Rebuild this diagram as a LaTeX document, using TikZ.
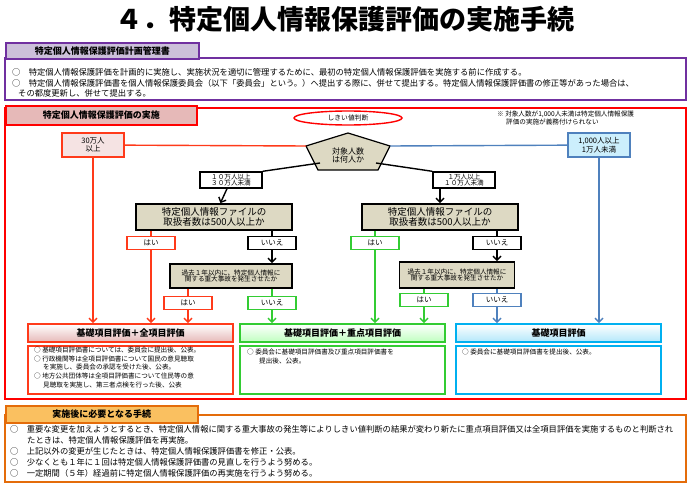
\documentclass[tikz,border=0pt]{standalone}
\usepackage{fontspec}
\setmainfont{Noto Sans CJK JP}
\usetikzlibrary{arrows.meta,shapes.geometric}
\definecolor{purpD}{HTML}{7030A0}
\definecolor{purpL}{HTML}{CCC0DA}
\definecolor{redF}{HTML}{FF0000}
\definecolor{redA}{HTML}{FF3A1A}
\definecolor{pinkL}{HTML}{E6B9B8}
\definecolor{tan}{HTML}{DDD9C3}
\definecolor{grn}{HTML}{33CC33}
\definecolor{blu}{HTML}{4F81BD}
\definecolor{cyn}{HTML}{00B0F0}
\definecolor{orgD}{HTML}{E46C0A}
\definecolor{orgL}{HTML}{FAC060}
\newcommand{\fs}[1]{\fontsize{#1}{#1}\selectfont}

\begin{document}
\begin{tikzpicture}[x=1pt,y=-1pt]
  \tikzset{>={Straight Barb[length=4pt,width=8pt]}}
  \tikzset{
    hdr/.style={draw, line width=1.6pt, inner sep=0, font=\bfseries\fs{9}},
    txt/.style={anchor=west, inner sep=0, font=\fs{8.3}},
    small/.style={anchor=west, inner sep=0, font=\fontsize{6.6}{8.6}\selectfont, align=left},
    ans/.style={draw, line width=1.2pt, fill=white, minimum width=48pt, minimum height=13pt, inner sep=0, font=\fs{7.5}},
    num/.style={draw, line width=1.4pt, fill=white, minimum width=62pt, minimum height=16pt, inner sep=0, font=\fs{6.6}, align=center},
    dec/.style={draw, line width=1.8pt, fill=tan, inner sep=0, align=center},
    res/.style={draw, line width=1.6pt, minimum width=205pt, minimum height=18pt, inner sep=0, font=\bfseries\fs{9}},
    body/.style={draw, line width=1.6pt, minimum width=205pt, minimum height=48pt, inner sep=0},
    ln/.style={line width=1.4pt}
  }
  \useasboundingbox (0,0) rectangle (690,484);
  \fill[white] (0,0) rectangle (690,484);

  % title
  \node[font=\bfseries\fs{27}, inner sep=0] (title) at (345,19) {４．特定個人情報保護評価の実施手続};

  % plan
  \draw[purpD, line width=1.6pt] (5,58) rectangle (686,100);
  \node[hdr, draw=purpD, fill=purpL, minimum width=193pt, minimum height=16pt, anchor=north west] (plan) at (5,42) {特定個人情報保護評価計画管理書};
  \node[txt] (p1) at (12,72) {○　特定個人情報保護評価を計画的に実施し、実施状況を適切に管理するために、最初の特定個人情報保護評価を実施する前に作成する。};
  \node[txt] (p2) at (12,83) {○　特定個人情報保護評価書を個人情報保護委員会（以下「委員会」という。）へ提出する際に、併せて提出する。特定個人情報保護評価書の修正等があった場合は、};
  \node[txt] (p3) at (18,93) {その都度更新し、併せて提出する。};

  % main
  \draw[redF, line width=1.6pt] (5,108) rectangle (686,399);
  \node[hdr, draw=redF, fill=pinkL, minimum width=191pt, minimum height=19pt, anchor=north west] (impl) at (5,105) {特定個人情報保護評価の実施};
  \node[draw=redF, line width=1.4pt, ellipse, minimum width=108pt, minimum height=14pt, inner sep=0, font=\fs{6.8}] (thr) at (348,118) {しきい値判断};
  \node[small] (note) at (497,118) {※ 対象人数が1,000人未満は特定個人情報保護\\\hspace{9pt}評価の実施が義務付けられない};

  % threshold question
  \draw[line width=1.2pt, fill=tan] (348,133) coordinate (pt) -- (390,146) coordinate (pr) -- (378,170) coordinate (pbr)
    -- (318,170) coordinate (pbl) -- (306,146) coordinate (pl) -- cycle;
  \node[font=\fs{8}, align=center, inner sep=0] (who) at (348,155) {対象人数\\は何人か};
  \node[draw=redA, line width=1.6pt, fill=pinkL!40, minimum width=62pt, minimum height=24pt, inner sep=0, align=center, font=\fs{7.5}] (big) at (93,145) {30万人\\以上};
  \node[draw=blu, line width=1.6pt, fill=cyn!20, minimum width=62pt, minimum height=24pt, inner sep=0, align=center, font=\fs{7.5}] (small1) at (599,145) {1,000人以上\\1万人未満};
  \draw[ln, redA] (big) -- (pl);
  \draw[ln, blu] (pr) -- (small1);
  \node[num] (mid) at (231,180) {１０万人以上\\３０万人未満};
  \node[num] (low) at (464,180) {１万人以上\\１０万人未満};
  \draw[ln] (320,163) -- (mid.north east);
  \draw[ln] (376,163) -- (low.north west);

  % left branch
  \node[dec, minimum width=156pt, minimum height=26pt, font=\fs{9.5}] (file1) at (214,217) {特定個人情報ファイルの\\取扱者数は500人以上か};
  \node[dec, minimum width=156pt, minimum height=26pt, font=\fs{9.5}] (file2) at (440,217) {特定個人情報ファイルの\\取扱者数は500人以上か};
  \draw[ln, ->] (mid) -- (file1);
  \draw[ln, ->] (low) -- (file2 |- low.south) -- (file2);

  \node[ans, draw=redA] (yes1) at (151,243) {はい};
  \node[ans] (no1) at (272,243) {いいえ};
  \node[dec, minimum width=122pt, minimum height=24pt, font=\fs{6.6}] (acc1) at (231,276) {過去１年以内に、特定個人情報に\\関する重大事故を発生させたか};
  \node[ans, draw=redA] (yes2) at (188,303) {はい};
  \node[ans, draw=grn] (no2) at (272,303) {いいえ};

  \node[ans, draw=grn] (yes3) at (375,243) {はい};
  \node[ans] (no3) at (497,243) {いいえ};
  \node[dec, minimum width=115pt, minimum height=26pt, font=\fs{6.6}] (acc2) at (457,275) {過去１年以内に、特定個人情報に\\関する重大事故を発生させたか};
  \node[ans, draw=grn] (yes4) at (424,300) {はい};
  \node[ans, draw=blu] (no4) at (497,300) {いいえ};

  % results
  \node[res, draw=redA, top color=white, bottom color=pinkL] (res1) at (130.5,333) {基礎項目評価＋全項目評価};
  \node[res, draw=grn, top color=white, bottom color=green!25] (res2) at (342.5,333) {基礎項目評価＋重点項目評価};
  \node[res, draw=cyn, top color=white, bottom color=cyn!30] (res3) at (558.5,333) {基礎項目評価};
  \node[body, draw=redA, anchor=north] (body1) at (res1.south |- 0,345) {};
  \node[body, draw=grn, anchor=north] (body2) at (res2.south |- 0,345) {};
  \node[body, draw=cyn, anchor=north] (body3) at (res3.south |- 0,345) {};
  \node[small, anchor=north west] (b1) at (34,347) {○ 基礎項目評価書については、委員会に提出後、公表。\\○ 行政機関等は全項目評価書について国民の意見聴取\\\hspace{9pt}を実施し、委員会の承認を受けた後、公表。\\○ 地方公共団体等は全項目評価書について住民等の意\\\hspace{9pt}見聴取を実施し、第三者点検を行った後、公表};
  \node[small, anchor=north west] (b2) at (247,349) {○ 委員会に基礎項目評価書及び重点項目評価書を\\\hspace{12pt}提出後、公表。};
  \node[small, anchor=north west] (b3) at (462,349) {○ 委員会に基礎項目評価書を提出後、公表。};

  % connectors
  \draw[ln, redA, ->] (big) -- (big |- res1.north);
  \draw[ln, redA] (file1.south -| yes1) -- (yes1);
  \draw[ln, redA, ->] (yes1) -- (yes1 |- res1.north);
  \draw[ln] (file1.south -| no1) -- (no1);
  \draw[ln, ->] (no1) -- (no1 |- acc1.north);
  \draw[ln, redA] (acc1.south -| yes2) -- (yes2);
  \draw[ln, redA, ->] (yes2) -- (yes2 |- res1.north);
  \draw[ln, grn] (acc1.south -| no2) -- (no2);
  \draw[ln, grn, ->] (no2) -- (no2 |- res2.north);

  \draw[ln, grn] (file2.south -| yes3) -- (yes3);
  \draw[ln, grn, ->] (yes3) -- (yes3 |- res2.north);
  \draw[ln] (file2.south -| no3) -- (no3);
  \draw[ln, ->] (no3) -- (no3 |- acc2.north);
  \draw[ln, grn] (acc2.south -| yes4) -- (yes4);
  \draw[ln, grn, ->] (yes4) -- (yes4 |- res2.north);
  \draw[ln, blu] (acc2.south -| no4) -- (no4);
  \draw[ln, blu, ->] (no4) -- (no4 |- res3.north);
  \draw[ln, blu, ->] (small1) -- (small1 |- res3.north);

  % after
  \draw[orgD, line width=1.6pt] (5,415) rectangle (686,482);
  \node[hdr, draw=orgD, fill=orgL, minimum width=192pt, minimum height=17pt, anchor=north west] (after) at (5,405) {実施後に必要となる手続};
  \node[txt] (a1) at (10,429) {○　重要な変更を加えようとするとき、特定個人情報に関する重大事故の発生等によりしきい値判断の結果が変わり新たに重点項目評価又は全項目評価を実施するものと判断され};
  \node[txt] (a2) at (27,440) {たときは、特定個人情報保護評価を再実施。};
  \node[txt] (a3) at (10,451) {○　上記以外の変更が生じたときは、特定個人情報保護評価書を修正・公表。};
  \node[txt] (a4) at (10,462) {○　少なくとも１年に１回は特定個人情報保護評価書の見直しを行うよう努める。};
  \node[txt] (a5) at (10,473) {○　一定期間（５年）経過前に特定個人情報保護評価の再実施を行うよう努める。};
\end{tikzpicture}
\end{document}
